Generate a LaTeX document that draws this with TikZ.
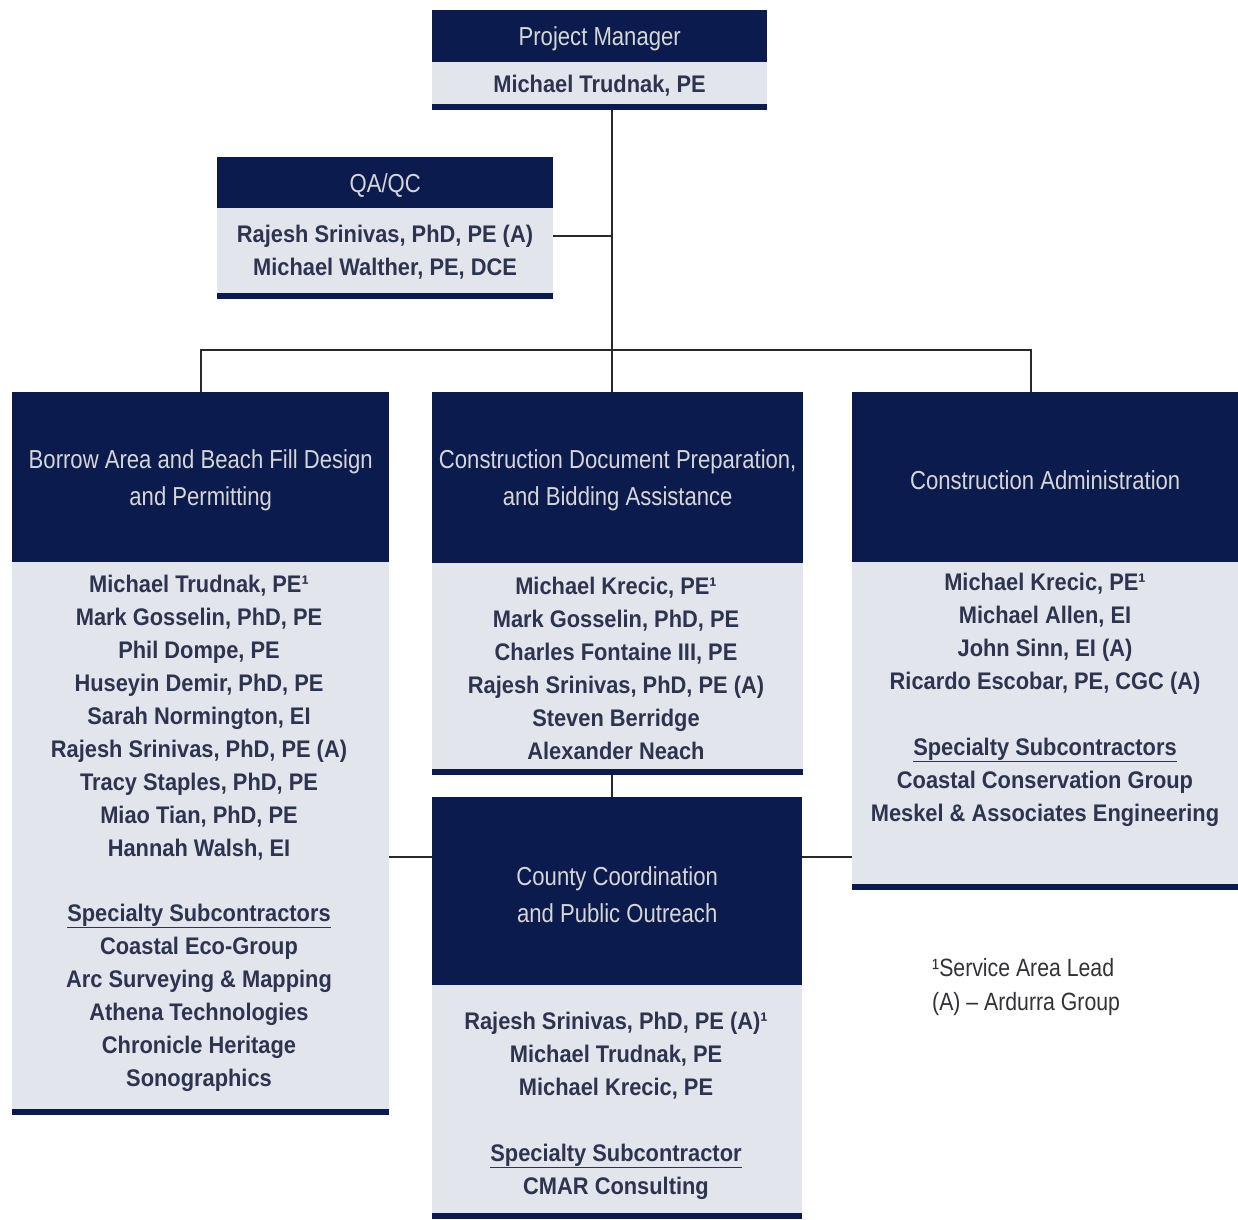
\documentclass[tikz,border=0pt]{standalone}
\usepackage{fontspec}
\setmainfont{Liberation Sans}
\newfontfamily\hdrfont[FakeStretch=0.85]{Liberation Sans}
\newfontfamily\namefont[FakeStretch=0.91]{Liberation Sans}
\definecolor{navy}{RGB}{11,27,77}
\definecolor{lightbg}{RGB}{226,229,236}
\definecolor{hdrtxt}{RGB}{214,214,214}
\definecolor{nametxt}{RGB}{45,52,80}
\definecolor{linec}{RGB}{40,40,40}
\definecolor{foottxt}{RGB}{50,50,55}
\tikzset{
  hdr/.style={fill=navy, draw=none, inner sep=0pt, anchor=north west},
  htxt/.style={text=hdrtxt, font=\hdrfont\fontsize{26}{37}\selectfont, align=center,
    inner sep=0pt, yshift=-3pt},
  bdy/.style={fill=lightbg, draw=none, inner sep=0pt, anchor=north west},
  txt/.style={text=nametxt, font=\namefont\bfseries\fontsize{24}{33}\selectfont,
    align=center, inner sep=0pt},
  foot/.style={text=foottxt, font=\hdrfont\fontsize{25}{34}\selectfont,
    align=left, inner sep=0pt, anchor=west},
  conn/.style={draw=linec, line width=1.6pt},
  bar/.style={fill=navy}
}
\begin{document}
\begin{tikzpicture}[x=1pt,y=-1pt]
\fill[white] (0,0) rectangle (1238,1219);
\useasboundingbox (0,0) rectangle (1238,1219);

% Project Manager
\node[hdr, minimum width=335pt, minimum height=52pt] (pmH) at (432,10) {};
\node[htxt] (pmHt) at (pmH.center) {Project Manager};
\node[bdy, minimum width=335pt, minimum height=48pt] (pmB) at (432,62) {};
\node[txt] (pmT) at (599.5,86) {Michael Trudnak, PE};

% QA/QC
\node[hdr, minimum width=336pt, minimum height=51pt] (qaH) at (217,157) {};
\node[htxt] (qaHt) at (qaH.center) {QA/QC};
\node[bdy, minimum width=336pt, minimum height=91pt] (qaB) at (217,208) {};
\node[txt] (qaT) at (385,252) {Rajesh Srinivas, PhD, PE (A)\\Michael Walther, PE, DCE};

% Left
\node[hdr, minimum width=377pt, minimum height=170pt] (lH) at (12,392) {};
\node[htxt] (lHt) at (lH.center) {Borrow Area and Beach Fill Design\\and Permitting};
\node[bdy, minimum width=377pt, minimum height=553pt] (lB) at (12,562) {};
\node[txt] (lT) at (199,833) {Michael Trudnak, PE¹\\Mark Gosselin, PhD, PE\\Phil Dompe, PE\\Huseyin Demir, PhD, PE\\Sarah Normington, EI\\Rajesh Srinivas, PhD, PE (A)\\Tracy Staples, PhD, PE\\Miao Tian, PhD, PE\\Hannah Walsh, EI\\[32pt]\underline{Specialty Subcontractors}\\Coastal Eco-Group\\Arc Surveying \& Mapping\\Athena Technologies\\Chronicle Heritage\\Sonographics};

% Middle
\node[hdr, minimum width=371pt, minimum height=171pt] (mH) at (432,392) {};
\node[htxt] (mHt) at (mH.center) {Construction Document Preparation,\\and Bidding Assistance};
\node[bdy, minimum width=371pt, minimum height=212pt] (mB) at (432,563) {};
\node[txt] (mT) at (616,668) {Michael Krecic, PE¹\\Mark Gosselin, PhD, PE\\Charles Fontaine III, PE\\Rajesh Srinivas, PhD, PE (A)\\Steven Berridge\\Alexander Neach};

% Right
\node[hdr, minimum width=386pt, minimum height=170pt] (rH) at (852,392) {};
\node[htxt] (rHt) at (rH.center) {Construction Administration};
\node[bdy, minimum width=386pt, minimum height=328pt] (rB) at (852,562) {};
\node[txt] (rT) at (1045,699.5) {Michael Krecic, PE¹\\Michael Allen, EI\\John Sinn, EI (A)\\Ricardo Escobar, PE, CGC (A)\\[33pt]\underline{Specialty Subcontractors}\\Coastal Conservation Group\\Meskel \& Associates Engineering};

% County
\node[hdr, minimum width=370pt, minimum height=188pt] (cH) at (432,797) {};
\node[htxt] (cHt) at (cH.center) {County Coordination\\and Public Outreach};
\node[bdy, minimum width=370pt, minimum height=234pt] (cB) at (432,985) {};
\node[txt] (cT) at (616,1105.5) {Rajesh Srinivas, PhD, PE (A)¹\\Michael Trudnak, PE\\Michael Krecic, PE\\[33pt]\underline{Specialty Subcontractor}\\CMAR Consulting};

% bottom bars
\foreach \b in {pmB,qaB,lB,mB,rB,cB}{
  \fill[bar] ([yshift=6pt]\b.south west) rectangle (\b.south east);
}

% footnote
\node[foot] (fn) at (932,987) {¹Service Area Lead\\(A) – Ardurra Group};

% connectors
\coordinate (j) at (612,350);
\coordinate (rj) at (1031,350);
\coordinate (cy) at (0,857);
\draw[conn] (pmB.south -| j) -- (j |- mH.north);
\draw[conn] ([yshift=17.5pt]qaB.east) -- ([yshift=17.5pt]qaB.east -| j);
\draw[conn] (lH.north) |- (rj) -- (rj |- rH.north);
\draw[conn] (mB.south -| j) -- (j |- cH.north);
\draw[conn] (lB.east |- cy) -- (cH.west |- cy);
\draw[conn] (cH.east |- cy) -- (rB.west |- cy);
\end{tikzpicture}
\end{document}
